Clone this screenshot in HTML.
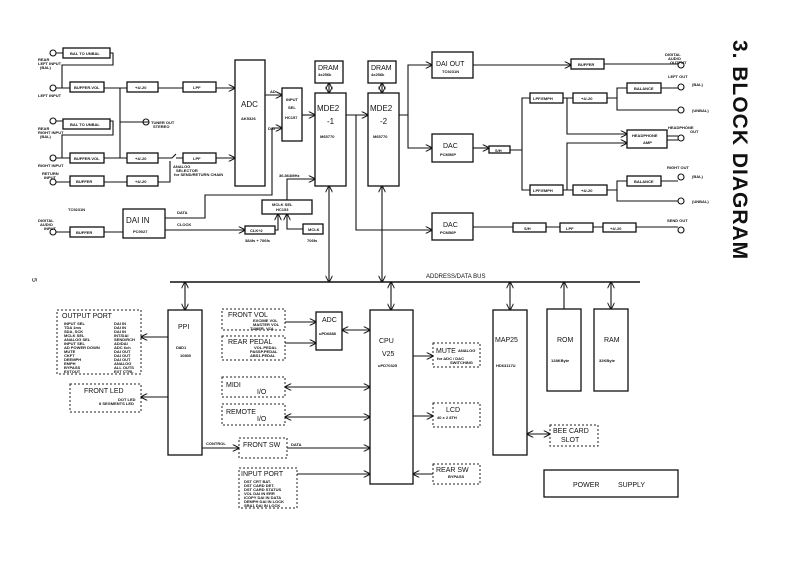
<!DOCTYPE html>
<html><head><meta charset="utf-8"><style>
html,body{margin:0;padding:0;background:#fff;}
svg{display:block;}
text{font-family:"Liberation Sans",sans-serif;fill:#111;}
.b{fill:#fff;stroke:#111;stroke-width:1.3;}
.d{fill:#fff;stroke:#222;stroke-width:1;stroke-dasharray:2,2;}
.l{fill:none;stroke:#111;stroke-width:1.1;}
.s{font-size:4px;font-weight:bold;}
.m{font-size:7px;}
.g{font-size:9px;}
</style></head><body>
<svg width="793" height="562" viewBox="0 0 793 562" xmlns="http://www.w3.org/2000/svg">
<defs>
<marker id="a" viewBox="0 0 10 10" refX="9" refY="5" markerWidth="7" markerHeight="7" orient="auto-start-reverse" markerUnits="userSpaceOnUse"><path d="M0,0 L10,5 L0,10" fill="none" stroke="#111" stroke-width="1.4"/></marker>
</defs>
<rect width="793" height="562" fill="#fff"/>

<!-- title -->
<text transform="translate(733,40) rotate(90)" style="font-size:21px;font-weight:bold;letter-spacing:1px">3. BLOCK DIAGRAM</text>
<text transform="translate(32,278) rotate(90)" class="m">5</text>

<!-- jacks -->
<g class="l">
<circle cx="53" cy="53" r="3"/><circle cx="53" cy="88" r="3"/><circle cx="53" cy="121" r="3"/><circle cx="53" cy="158" r="3"/><circle cx="53" cy="182" r="3"/><circle cx="53" cy="232" r="3"/>
<circle cx="146" cy="122" r="3"/>
<circle cx="681" cy="65" r="3"/><circle cx="681" cy="87" r="3"/><circle cx="681" cy="110" r="3"/><circle cx="681" cy="138" r="3"/><circle cx="681" cy="177" r="3"/><circle cx="681" cy="201" r="3"/><circle cx="681" cy="230" r="3"/>
</g>
<g class="s">
<text x="38" y="61">REAR</text><text x="38" y="65">LEFT INPUT</text><text x="40" y="69">(BAL)</text>
<text x="38" y="97">LEFT INPUT</text>
<text x="38" y="130">REAR</text><text x="38" y="134">RIGHT INPUT</text><text x="40" y="138">(BAL)</text>
<text x="38" y="167">RIGHT INPUT</text>
<text x="42" y="175">RETURN</text><text x="44" y="179">INPUT</text>
<text x="38" y="222">DIGITAL</text><text x="40" y="226">AUDIO</text><text x="44" y="230">INPUT</text>
<text x="151" y="124">TUNER OUT</text><text x="153" y="128">STEREO</text>
<text x="68" y="211">TC9231N</text>
<text x="173" y="168">ANALOG</text><text x="176" y="172">SELECTOR</text><text x="174" y="176">for SEND/RETURN CHAIN</text>
<text x="665" y="56">DIGITAL</text><text x="668" y="60">AUDIO</text><text x="670" y="64">OUTPUT</text>
<text x="668" y="78">LEFT OUT</text><text x="692" y="86">(BAL)</text><text x="692" y="112">(UNBAL)</text>
<text x="668" y="129">HEADPHONE</text><text x="690" y="133">OUT</text>
<text x="667" y="169">RIGHT OUT</text><text x="692" y="178">(BAL)</text><text x="692" y="203">(UNBAL)</text>
<text x="667" y="222">SEND OUT</text>
</g>

<!-- left analog chain boxes -->
<g class="b">
<rect x="63" y="48" width="47" height="10"/><rect x="70" y="82" width="34" height="10"/>
<rect x="127" y="82" width="31" height="10"/><rect x="183" y="82" width="33" height="10"/>
<rect x="63" y="119" width="47" height="10"/><rect x="70" y="153" width="34" height="10"/>
<rect x="127" y="153" width="31" height="10"/><rect x="183" y="153" width="33" height="10"/>
<rect x="70" y="176" width="34" height="10"/><rect x="127" y="176" width="31" height="10"/>
<rect x="70" y="227" width="34" height="10"/>
<rect x="235" y="60" width="30" height="126"/>
<rect x="282" y="88" width="20" height="53"/>
<rect x="315" y="93" width="31" height="93"/><rect x="315" y="61" width="28" height="22"/>
<rect x="368" y="93" width="31" height="93"/><rect x="368" y="61" width="28" height="22"/>
<rect x="123" y="209" width="42" height="29"/>
<rect x="245" y="226" width="30" height="8"/>
<rect x="262" y="200" width="50" height="14"/>
<rect x="303" y="224" width="20" height="10"/>
<rect x="432" y="52" width="41" height="26"/><rect x="571" y="59" width="33" height="10"/>
<rect x="432" y="134" width="41" height="28"/><rect x="489" y="146" width="21" height="7"/>
<rect x="530" y="93" width="33" height="10"/><rect x="573" y="93" width="34" height="10"/><rect x="627" y="83" width="34" height="10"/>
<rect x="627" y="130" width="40" height="18"/>
<rect x="530" y="185" width="33" height="10"/><rect x="573" y="185" width="34" height="10"/><rect x="627" y="176" width="34" height="10"/>
<rect x="432" y="213" width="41" height="27"/>
<rect x="513" y="223" width="33" height="9"/><rect x="560" y="223" width="33" height="9"/><rect x="603" y="223" width="33" height="9"/>
</g>
<g class="s">
<text x="70" y="55">BAL TO UNBAL</text><text x="74" y="89">BUFFER.VOL</text><text x="135" y="89">+4/-20</text><text x="193" y="89">LPF</text>
<text x="70" y="126">BAL TO UNBAL</text><text x="74" y="160">BUFFER.VOL</text><text x="135" y="160">+4/-20</text><text x="193" y="160">LPF</text>
<text x="76" y="183">BUFFER</text><text x="135" y="183">+4/-20</text><text x="76" y="234">BUFFER</text>
<text x="241" y="120">AK5326</text>
<text x="286" y="101">INPUT</text><text x="288" y="109">SEL</text><text x="285" y="119">HC157</text>
<text x="270" y="93">AD</text><text x="268" y="130">DAI</text>
<text x="320" y="138">M65770</text><text x="373" y="138">M65770</text>
<text x="318" y="76">4x256k</text><text x="371" y="76">4x256k</text>
<text x="133" y="233">PC9027</text>
<text x="177" y="214">DATA</text><text x="177" y="226">CLOCK</text>
<text x="250" y="232">CLK÷2</text><text x="272" y="206">MCLK SEL</text><text x="276" y="211">HC153</text>
<text x="308" y="231">MCLK</text><text x="307" y="242">706fs</text>
<text x="245" y="242">384fs + 706fs</text><text x="279" y="177">36.864MHz</text>
<text x="442" y="73">TC9231N</text><text x="578" y="66">BUFFER</text>
<text x="440" y="156">PCM56P</text><text x="495" y="152">S/H</text>
<text x="533" y="100">LPF.EMPH</text><text x="581" y="100">+4/-20</text><text x="634" y="90">BALANCE</text>
<text x="632" y="137">HEADPHONE</text><text x="643" y="144">AMP</text>
<text x="533" y="192">LPF.EMPH</text><text x="581" y="192">+4/-20</text><text x="634" y="183">BALANCE</text>
<text x="440" y="234">PCM56P</text><text x="524" y="230">S/H</text><text x="566" y="230">LPF</text><text x="610" y="230">+4/-20</text>
</g>
<g class="m">
<text x="241" y="107" style="font-size:8px">ADC</text>
<text x="317" y="111" style="font-size:8px">MDE2</text><text x="327" y="124" style="font-size:8px">-1</text>
<text x="370" y="111" style="font-size:8px">MDE2</text><text x="380" y="124" style="font-size:8px">-2</text>
<text x="318" y="70">DRAM</text><text x="371" y="70">DRAM</text>
<text x="126" y="223" style="font-size:8px">DAI IN</text>
<text x="436" y="66">DAI OUT</text><text x="443" y="148">DAC</text><text x="443" y="227">DAC</text>
</g>

<!-- top connectors -->
<g class="l">
<path d="M56,53 H63 M110,53 H113 V65 H62 V88 M56,88 H70 M104,88 H127 M158,88 H183"/>
<path d="M56,121 H63 M110,121 H113 V135 H62 V158 M56,158 H70 M104,158 H127 M149,122 H120 M120,88 V158"/>
<path d="M158,158 H172 L176,154 M176,158 H183 M56,182 H70 M104,182 H127 M158,182 H170 V161"/>
<path d="M216,88 H235" marker-end="url(#a)"/><path d="M216,158 H235" marker-end="url(#a)"/>
<path d="M265,95 H282" marker-end="url(#a)"/>
<path d="M302,115 H315" marker-end="url(#a)"/>
<path d="M165,218 H205 V195 H272 V128 H282" marker-end="url(#a)"/>
<path d="M165,230 H245" marker-end="url(#a)"/>
<path d="M56,232 H70 M104,232 H123"/>
<path d="M275,230 H278 V214" marker-end="url(#a)"/>
<path d="M303,229 H287 V214" marker-end="url(#a)"/>
<path d="M287,200 V179 H315" marker-end="url(#a)"/>
<path d="M329,83 V93" marker-start="url(#a)" marker-end="url(#a)"/>
<path d="M382,83 V93" marker-start="url(#a)" marker-end="url(#a)"/>
<path d="M346,115 H368" marker-end="url(#a)"/>
<path d="M356,115 V230 H432" marker-end="url(#a)"/>
<path d="M399,115 H408 V65 H432" marker-end="url(#a)"/>
<path d="M408,115 V148 H432" marker-end="url(#a)"/>
<path d="M473,65 H571" marker-end="url(#a)"/><path d="M604,64 H678"/>
<path d="M473,148 H489" marker-end="url(#a)"/>
<path d="M510,150 H522 V98 H530 M522,150 V190 H530 M563,98 H573 M563,190 H573"/>
<path d="M607,98 H617 V88 H627 M661,88 H678 M617,98 V110 H678"/>
<path d="M607,190 H617 V181 H627 M661,181 H678 M617,190 V201 H678"/>
<path d="M567,98 V134 H627" marker-end="url(#a)"/>
<path d="M567,190 V143 H627" marker-end="url(#a)"/>
<path d="M667,136 H678 M667,140 H678"/>
<path d="M473,227 H513 M546,227 H560 M593,227 H603 M636,227 H678"/>
<path d="M329,186 V282" marker-start="url(#a)" marker-end="url(#a)"/>
<path d="M382,186 V282" marker-start="url(#a)" marker-end="url(#a)"/>
</g>

<!-- bus -->
<path d="M170,282 H640" stroke="#111" stroke-width="1.5"/>
<text x="426" y="278" style="font-size:6px">ADDRESS/DATA BUS</text>

<!-- bottom boxes -->
<g class="b">
<rect x="168" y="310" width="34" height="145"/>
<rect x="316" y="312" width="26" height="38"/>
<rect x="370" y="310" width="43" height="174"/>
<rect x="493" y="310" width="34" height="145"/>
<rect x="547" y="309" width="34" height="82"/><rect x="594" y="309" width="34" height="82"/>
<rect x="544" y="470" width="134" height="27"/>
</g>
<g class="d">
<rect x="57" y="310" width="84" height="64"/><rect x="70" y="384" width="71" height="28"/>
<rect x="222" y="309" width="63" height="21"/><rect x="222" y="336" width="63" height="24"/>
<rect x="222" y="377" width="63" height="20"/><rect x="222" y="404" width="63" height="21"/>
<rect x="239" y="438" width="48" height="20"/><rect x="239" y="468" width="58" height="40"/>
<rect x="433" y="343" width="47" height="24"/><rect x="433" y="403" width="47" height="24"/>
<rect x="433" y="464" width="47" height="20"/>
<rect x="550" y="425" width="48" height="21"/>
</g>
<g class="m">
<text x="62" y="318">OUTPUT PORT</text><text x="84" y="393">FRONT LED</text>
<text x="178" y="329">PPI</text>
<text x="228" y="317">FRONT VOL</text><text x="228" y="344">REAR PEDAL</text>
<text x="322" y="322">ADC</text>
<text x="226" y="387">MIDI</text><text x="257" y="394">I/O</text>
<text x="226" y="414">REMOTE</text><text x="257" y="421">I/O</text>
<text x="243" y="447">FRONT SW</text><text x="241" y="476">INPUT PORT</text>
<text x="379" y="343">CPU</text><text x="382" y="356">V25</text>
<text x="436" y="353">MUTE</text><text x="446" y="412">LCD</text><text x="436" y="472">REAR SW</text>
<text x="495" y="342">MAP25</text><text x="557" y="342">ROM</text><text x="604" y="342">RAM</text>
<text x="553" y="433">BEE CARD</text><text x="561" y="442">SLOT</text>
<text x="573" y="487">POWER</text><text x="618" y="487">SUPPLY</text>
</g>
<g class="s">
<text x="64" y="325">INPUT SEL</text><text x="64" y="329">TDA 1ms</text><text x="64" y="333">SDA, SCK</text><text x="64" y="337">MCLK SEL</text><text x="64" y="341">ANALOG SEL</text><text x="64" y="345">INPUT SEL</text><text x="64" y="349">AD POWER DOWN</text><text x="64" y="353">MUTE</text><text x="64" y="357">CKFT</text><text x="64" y="361">DEEMPH</text><text x="64" y="365">EMPH</text><text x="64" y="369">BYPASS</text><text x="64" y="373">EXTOUT</text>
<text x="114" y="325">DAI IN</text><text x="114" y="329">DAI IN</text><text x="114" y="333">DAI IN</text><text x="114" y="337">INT/DAI</text><text x="114" y="341">SEND/RCH</text><text x="114" y="345">AD/DAI</text><text x="114" y="349">ADC 6ch</text><text x="114" y="353">DAI OUT</text><text x="114" y="357">DAI OUT</text><text x="114" y="361">DAI OUT</text><text x="114" y="365">ANALOG</text><text x="114" y="369">ALL OUTS</text><text x="114" y="373">EXT CTRL</text>
<text x="118" y="401">DOT LED</text><text x="99" y="405">8 SEGMENTS LED</text>
<text x="176" y="349">D8D1</text><text x="180" y="357">10800</text>
<text x="253" y="322">EXCIME VOL</text><text x="253" y="326">MASTER VOL</text><text x="250" y="330">TUNER. VOL</text>
<text x="254" y="349">VOL.PEDAL</text><text x="250" y="353">PASSP.PEDAL</text><text x="250" y="357">ABS1.PEDAL</text>
<text x="319" y="335">uPD6888</text>
<text x="378" y="367">uPD70325</text>
<text x="458" y="352">ANALOG</text><text x="437" y="360">for ADC / DAC</text><text x="450" y="364">SWITCHING</text>
<text x="437" y="419">40 x 2   8TH</text><text x="448" y="478">BYPASS</text>
<text x="496" y="367">HD63117U</text><text x="551" y="362">128KByte</text><text x="599" y="362">32KByte</text>
<text x="206" y="445">CONTROL</text><text x="291" y="446">DATA</text>
<text x="244" y="483">DST    CRT BAT.</text><text x="244" y="487">DST    CARD DET.</text><text x="244" y="491">DST    CARD STATUS</text><text x="244" y="495">VOL    DAI IN ERR</text><text x="244" y="499">ICOPY  DAI IN DATA</text><text x="244" y="503">DEMPH  DAI IN LOCK</text><text x="244" y="507">SRA1   DAI IN LOCK</text>
</g>
<g class="l">
<path d="M185,282 V310" marker-start="url(#a)" marker-end="url(#a)"/>
<path d="M391,282 V310" marker-start="url(#a)" marker-end="url(#a)"/>
<path d="M510,282 V310" marker-start="url(#a)" marker-end="url(#a)"/>
<path d="M564,309 V282" marker-end="url(#a)"/>
<path d="M611,282 V309" marker-start="url(#a)" marker-end="url(#a)"/>
<path d="M168,337 H141" marker-end="url(#a)"/>
<path d="M168,397 H141" marker-end="url(#a)"/>
<path d="M285,322 H316" marker-end="url(#a)"/>
<path d="M285,343 H316" marker-end="url(#a)"/>
<path d="M342,330 H370" marker-start="url(#a)" marker-end="url(#a)"/>
<path d="M285,387 H370" marker-start="url(#a)" marker-end="url(#a)"/>
<path d="M285,417 H370" marker-start="url(#a)" marker-end="url(#a)"/>
<path d="M202,448 H239" marker-end="url(#a)"/>
<path d="M287,448 H370" marker-end="url(#a)"/>
<path d="M297,474 H370" marker-end="url(#a)"/>
<path d="M413,356 H433" marker-end="url(#a)"/>
<path d="M413,416 H433" marker-end="url(#a)"/>
<path d="M433,474 H413" marker-end="url(#a)"/>
<path d="M527,434 H550" marker-start="url(#a)" marker-end="url(#a)"/>
</g>
</svg>
</body></html>
